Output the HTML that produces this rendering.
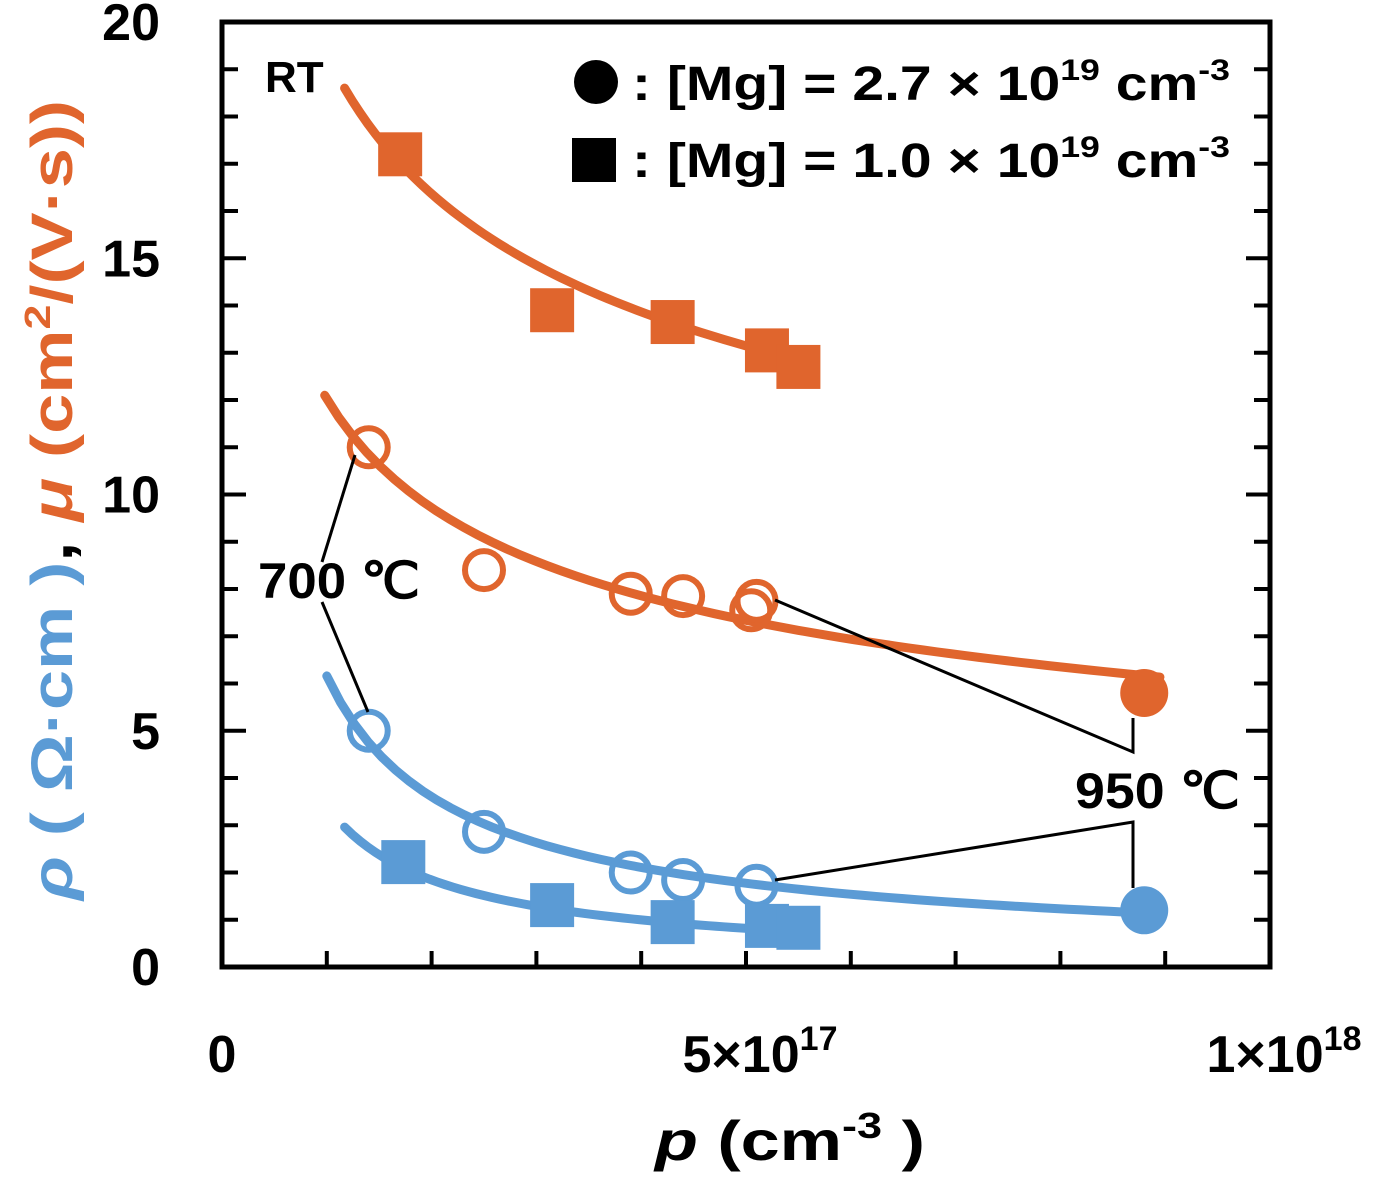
<!DOCTYPE html>
<html><head><meta charset="utf-8"><style>
body{margin:0;background:#fff}
svg{display:block;font-family:"Liberation Sans",sans-serif;font-weight:bold}
</style></head><body>
<svg id="chart" width="1378" height="1177" viewBox="0 0 1378 1177" xmlns="http://www.w3.org/2000/svg">
<g id="axes"></g>
<g id="curves"></g>
<g id="marks"></g>
<g stroke="#000" stroke-width="3" fill="none">
<polyline points="355,455 322,562"/>
<polyline points="322,602 368,712"/>
<polyline points="775,600 1133,752 1133,718"/>
<polyline points="775,880 1133,822 1133,888"/>
</g>
<text x="258" y="598" font-size="50" textLength="162" lengthAdjust="spacingAndGlyphs">700 ℃</text>
<text x="1075" y="808" font-size="50" textLength="165" lengthAdjust="spacingAndGlyphs">950 ℃</text>
<text x="265" y="92" font-size="44">RT</text>
<g>
<circle cx="596" cy="82" r="22" fill="#000"/>
<text x="632" y="100" font-size="48" textLength="598" lengthAdjust="spacingAndGlyphs">: [Mg] = 2.7 × 10<tspan font-size="30" dy="-20">19</tspan><tspan dy="20"> cm</tspan><tspan font-size="30" dy="-20">-3</tspan></text>
<rect x="572" y="138" width="44" height="44" fill="#000"/>
<text x="632" y="177" font-size="48" textLength="598" lengthAdjust="spacingAndGlyphs">: [Mg] = 1.0 × 10<tspan font-size="30" dy="-20">19</tspan><tspan dy="20"> cm</tspan><tspan font-size="30" dy="-20">-3</tspan></text>
</g>
<text x="790" y="1160" font-size="56" text-anchor="middle" textLength="270" lengthAdjust="spacingAndGlyphs"><tspan font-style="italic">p</tspan> (cm<tspan font-size="36" dy="-22">-3</tspan><tspan dy="22"> )</tspan></text>
<text transform="translate(72,500) rotate(-90)" font-size="58" text-anchor="middle" textLength="800" lengthAdjust="spacingAndGlyphs"><tspan fill="#5B9BD5"><tspan font-style="italic">ρ</tspan> ( Ω·cm )</tspan><tspan fill="#000">,  </tspan><tspan fill="#E0652D"><tspan font-style="italic">μ</tspan> (cm<tspan font-size="36" dy="-22">2</tspan><tspan dy="22">/(V·s))</tspan></tspan></text>
</svg>
<script>
const NS='http://www.w3.org/2000/svg';
const xTicks=[0,5e17,1e18];
const xTickLabels=['0','5×10','1×10'];
const xTickExp=['','17','18'];
const yTicks=[0,5,10,15,20];
const muSqP=[1.7e17,3.15e17,4.3e17,5.2e17,5.5e17];
const muSqV=[17.2,13.9,13.65,13.05,12.7];
const muCircP=[1.4e17,2.5e17,3.9e17,4.4e17,5.1e17,5.05e17];
const muCircV=[11.0,8.4,7.9,7.85,7.75,7.55];
const muFilledP=[8.8e17];
const muFilledV=[5.8];
const rhoCircP=[1.4e17,2.5e17,3.9e17,4.4e17,5.1e17];
const rhoCircV=[5.0,2.86,2.0,1.84,1.72];
const rhoFilledP=[8.8e17];
const rhoFilledV=[1.2];
const rhoSqP=[1.73e17,3.15e17,4.3e17,5.2e17,5.5e17];
const rhoSqV=[2.22,1.31,0.95,0.87,0.83];
// power-law fits: value = a*(p/1e17)^b over [pmin,pmax]
const fitA=[18.6*Math.pow(1.17,0.239),12.1*Math.pow(0.98,0.307),6.16,2.96*Math.pow(1.17,0.885)];
const fitB=[-0.239,-0.307,-0.774,-0.885];
const fitMin=[1.17e17,0.98e17,1.0e17,1.17e17];
const fitMax=[5.6e17,8.95e17,8.86e17,5.6e17];
const fitColor=['#E0652D','#E0652D','#5B9BD5','#5B9BD5'];
const X0=222,X1=1270,Y0=967,Y1=22;
const sx=p=>X0+(X1-X0)*p/1e18;
const sy=v=>Y0-(Y0-Y1)*v/20;
function mk(tag,attrs,parent){const e=document.createElementNS(NS,tag);for(const k in attrs)e.setAttribute(k,attrs[k]);parent.appendChild(e);return e;}
const axes=document.getElementById('axes');
let fr=mk('rect',{x:X0,y:Y1,width:X1-X0,height:Y0-Y1,fill:'none',stroke:'#000','stroke-width':5},axes);


for(let i=1;i<10;i++){const x=sx(i*1e17);
 let t=mk('line',{x1:x,x2:x,y1:Y0,y2:Y0-16,stroke:'#000','stroke-width':4},axes);
 
 }
for(let v=1;v<20;v++){const y=sy(v);const L=v%5===0?24:16;
 let t=mk('line',{x1:X0,x2:X0+L,y1:y,y2:y,stroke:'#000','stroke-width':4},axes);
 
 
 let t2=mk('line',{x1:X1,x2:X1-L,y1:y,y2:y,stroke:'#000','stroke-width':4},axes);
 
 }
yTicks.forEach(v=>{let t=mk('text',{x:160,y:sy(v)+18,'font-size':52,'text-anchor':'end'},axes);t.textContent=v;
 
 });
xTicks.forEach((p,i)=>{let t=mk('text',{x:sx(p)+(i?-2:0),y:1072,'font-size':52,'text-anchor':'middle'},axes);
 t.textContent=xTickLabels[i];
 if(xTickExp[i]){let s=mk('tspan',{'font-size':34,dy:-22},t);s.textContent=xTickExp[i];t.setAttribute('x',sx(p)+14);}
 
 });
const curves=document.getElementById('curves');
fitA.forEach((a,i)=>{let pts=[];for(let k=0;k<=60;k++){const p=fitMin[i]+(fitMax[i]-fitMin[i])*k/60;pts.push(sx(p)+','+sy(a*Math.pow(p/1e17,fitB[i])));}
 let c=mk('polyline',{points:pts.join(' '),fill:'none',stroke:fitColor[i],'stroke-width':9,'stroke-linecap':'round'},curves);
 
 });
const marks=document.getElementById('marks');
function squares(P,V,col,name){P.forEach((p,i)=>{let r=mk('rect',{x:sx(p)-22,y:sy(V[i])-22,width:44,height:44,fill:col},marks);
 
 });}
function circles(P,V,col,filled,name){P.forEach((p,i)=>{let c=mk('circle',filled?{cx:sx(p),cy:sy(V[i]),r:24,fill:col}:{cx:sx(p),cy:sy(V[i]),r:19,fill:'none',stroke:col,'stroke-width':6},marks);
 
 });}
squares(muSqP,muSqV,'#E0652D','mu-square-point');
circles(muCircP,muCircV,'#E0652D',false,'mu-open-circle');
circles(muFilledP,muFilledV,'#E0652D',true,'mu-filled-circle');
circles(rhoCircP,rhoCircV,'#5B9BD5',false,'rho-open-circle');
circles(rhoFilledP,rhoFilledV,'#5B9BD5',true,'rho-filled-circle');
squares(rhoSqP,rhoSqV,'#5B9BD5','rho-square-point');
</script>
</body></html>
